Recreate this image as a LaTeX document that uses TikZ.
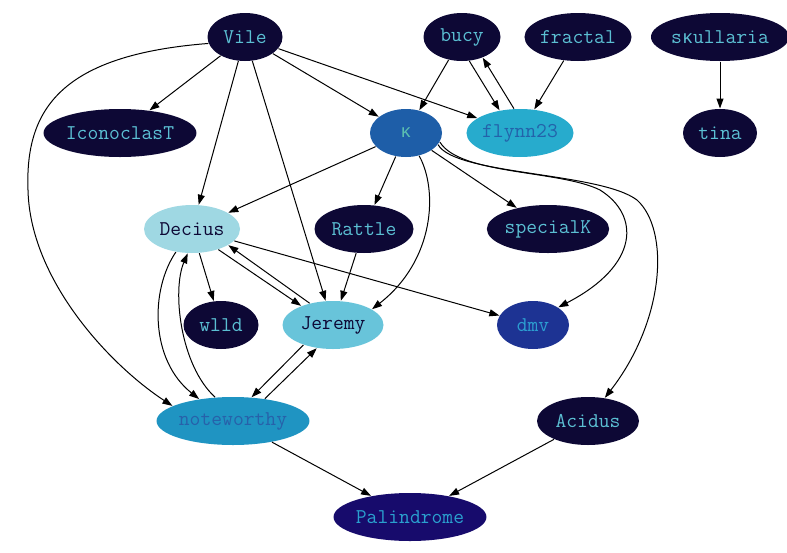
\documentclass[tikz,border=0pt]{standalone}
\usepackage{fontspec}
\newfontfamily\kramono{Liberation Mono}
\newcommand{\kra}{{\kramono\fontsize{18.5}{20}\selectfont ĸ}}
\usepackage{tikz}
\usetikzlibrary{arrows.meta,shapes}
\definecolor{nodedark}{HTML}{0D0835}
\definecolor{textcyan}{HTML}{5BBFD3}
\definecolor{kfill}{HTML}{1E5EA8}
\definecolor{ktext}{HTML}{5BBFB0}
\definecolor{flynnfill}{HTML}{27ABCD}
\definecolor{flynntext}{HTML}{2362AA}
\definecolor{deciusfill}{HTML}{9FD8E3}
\definecolor{jeremyfill}{HTML}{68C4DA}
\definecolor{dmvfill}{HTML}{1D3393}
\definecolor{dmvtext}{HTML}{2C9ED1}
\definecolor{notefill}{HTML}{1F94C2}
\definecolor{notetext}{HTML}{2761AA}
\definecolor{palfill}{HTML}{170B6C}
\definecolor{paltext}{HTML}{2AA0CF}

\begin{document}
\begin{tikzpicture}[x=1pt, y=-1pt, every node/.style={ellipse, inner sep=0pt, minimum height=48pt,
 font=\ttfamily\fontsize{21}{24}\selectfont}, dark/.style={fill=nodedark, text=textcyan},
 every path/.style={line width=1pt, -{Triangle[length=10pt,width=7pt]}}]
 \useasboundingbox (0,0) rectangle (787,552);

 \node[dark, minimum width=75pt] (vile) at (245,37) {Vile};
 \node[dark, minimum width=77pt] (bucy) at (462,37) {bucy};
 \node[dark, minimum width=107pt] (fractal) at (578,37) {fractal};
 \node[dark, minimum width=127pt] (skullaria) at (720,37) {s\kra ullaria};
 \node[dark, minimum width=138pt] (iconoclast) at (120,133) {IconoclasT};
 \node[fill=kfill, text=ktext, minimum width=72pt] (k) at (406,133) {\kra};
 \node[fill=flynnfill, text=flynntext, minimum width=106pt] (flynn) at (520,133) {flynn23};
 \node[dark, minimum width=74pt] (tina) at (720,133) {tina};
 \node[fill=deciusfill, text=nodedark, minimum width=96pt] (decius) at (192,229) {Decius};
 \node[dark, minimum width=99pt] (rattle) at (364,229) {Rattle};
 \node[dark, minimum width=120pt] (specialk) at (548,229) {specialK};
 \node[dark, minimum width=75pt] (wild) at (221,325) {wlld};
 \node[fill=jeremyfill, text=nodedark, minimum width=101pt] (jeremy) at (333,325) {Jeremy};
 \node[fill=dmvfill, text=dmvtext, minimum width=72pt] (dmv) at (533,325) {dmv};
 \node[fill=notefill, text=notetext, minimum width=150pt] (noteworthy) at (233,421) {noteworthy};
 \node[dark, minimum width=102pt] (acidus) at (588,421) {Acidus};
 \node[fill=palfill, text=paltext, minimum width=146pt] (palindrome) at (410,517) {Palindrome};

 % from Vile
 \draw (vile) -- (iconoclast);
 \draw (vile) -- (decius);
 \draw (vile) -- (jeremy);
 \draw (vile) -- (k);
 \draw (vile) -- (flynn);
 \draw (vile.190) .. controls (60,55) and (25,110) .. (28,190)
   .. controls (30,280) and (110,365) .. (noteworthy.166);
 % top row
 \draw (bucy) -- (k);
 \draw (bucy.-73) -- (flynn.132);
 \draw (flynn.104) -- (bucy.-45);
 \draw (fractal) -- (flynn);
 \draw (skullaria) -- (tina);
 % from k
 \draw (k) -- (decius);
 \draw (k) -- (rattle);
 \draw (k) -- (specialk);
 \draw (k.-60) .. controls (438,190) and (435,260) .. (jeremy.22);
 \draw (k.-15) .. controls (460,175) and (560,170) .. (600,190)
   .. controls (640,215) and (640,265) .. (dmv.35);
 \draw (k.-20) .. controls (455,175) and (600,172) .. (637,200)
   .. controls (670,230) and (665,320) .. (acidus.54);
 % middle
 \draw (decius) -- (wild);
 \draw (decius.-38) -- (jeremy.149);
 \draw (jeremy.137) -- (decius.-24);
 \draw (decius) -- (dmv);
 \draw (decius.-125) .. controls (150,290) and (150,360) .. (noteworthy.147);
 \draw (noteworthy.127) .. controls (180,365) and (172,290) .. (decius.-100);
 \draw (rattle) -- (jeremy);
 \draw (jeremy.-146) -- (noteworthy.52);
 \draw (noteworthy.35) -- (jeremy.-125);
 % bottom
 \draw (noteworthy) -- (palindrome);
 \draw (acidus) -- (palindrome);
\end{tikzpicture}
\end{document}
